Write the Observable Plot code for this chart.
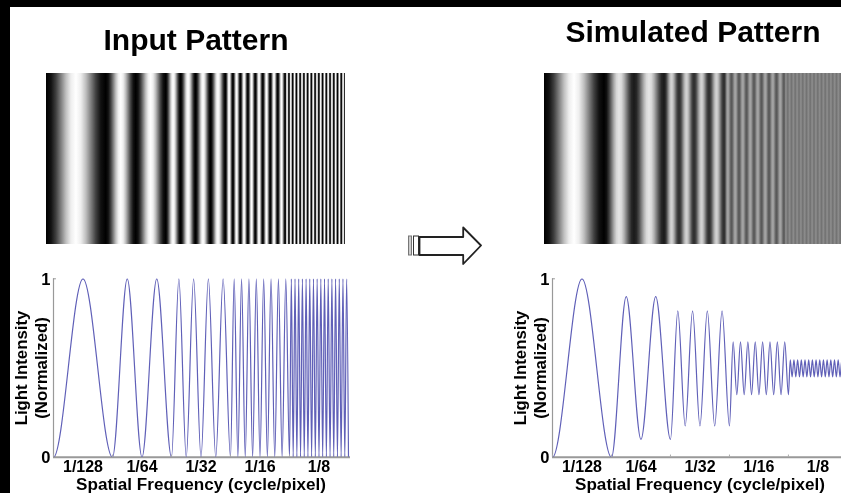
<!DOCTYPE html>
<html><head><meta charset="utf-8">
<script src="https://cdn.jsdelivr.net/npm/d3@7"></script>
<script src="https://cdn.jsdelivr.net/npm/@observablehq/plot@0.6"></script>
<style>
html,body{margin:0;padding:0;background:#000;overflow:hidden}
#page{position:relative;width:841px;height:493px;background:#000;overflow:hidden;font-family:"Liberation Sans",Arial,sans-serif}
#white{position:absolute;left:10px;top:7px;width:831px;height:486px;background:#fff}
.p{position:absolute}
.title{position:absolute;font-weight:bold;font-size:30px;line-height:32px;color:#000;white-space:nowrap;transform:translateX(-50%);filter:blur(.4px)}
</style></head><body>
<div id="page"><div id="white"></div></div>
<script>
// Extrema of the pattern, position along the octave bands (0..5)
const extremaX = [0,.5,1,
 1.25,1.5,1.75,2,
 2.125,2.25,2.375,2.5,2.625,2.75,2.875,3,
 3.0625,3.125,3.1875,3.25,3.3125,3.375,3.4375,3.5,3.5625,3.625,3.6875,3.75,3.8125,3.875,3.9375,4,
 4.03125,4.0625,4.09375,4.125,4.15625,4.1875,4.21875,4.25,4.28125,4.3125,4.34375,4.375,4.40625,4.4375,4.46875,4.5,
 4.53125,4.5625,4.59375,4.625,4.65625,4.6875,4.71875,4.75,4.78125,4.8125,4.84375,4.875,4.90625,4.9375,4.96875,5];
const inputLevels = [0,1,0,
 1,0,1,0,
 1,0,1,0,1,0,1,0,
 1,0,1,0,1,0,1,0,1,0,1,0,1,0,1,0,
 1,0,1,0,1,0,1,0,1,0,1,0,1,0,1,0,
 1,0,1,0,1,0,1,0,1,0,1,0,1,0,1,0];
const simulatedLevels = [0,1,0,
 .9,.1,.9,.1,
 .82,.175,.82,.175,.82,.175,.82,.175,
 .647,.35,.647,.35,.647,.35,.647,.35,.647,.35,.647,.35,.647,.35,.647,.35,
 .546,.45,.546,.45,.546,.45,.546,.45,.546,.45,.546,.45,.546,.45,.546,.45,
 .546,.45,.546,.45,.546,.45,.546,.45,.546,.45,.546,.45,.546,.45,.546,.45];
const leadIn = {x:-.5,y:1};
const tickCenters = [.5,1.5,2.5,3.5,4.5];
const tickLabels = ["1/128","1/64","1/32","1/16","1/8"];
const bandEdges = [0,1,2,3,4];
const yTicks = [0,1];
const xTitle = "Spatial Frequency (cycle/pixel)";
const yTitle = "Light Intensity\n(Normalized)";
const arrowBodyX = [419,462.7,462.7,480.5,462.7,462.7,419,419];
const arrowBodyY = [236.5,236.5,227,245,263.5,254.5,254.5,236.5];

const page = document.getElementById("page");
function put(node,left,top){node.classList.add("p");node.style.left=left+"px";node.style.top=top+"px";page.appendChild(node);}
function title(t,cx,top){const d=document.createElement("div");d.className="title";d.textContent=t;d.style.left=cx+"px";d.style.top=top+"px";page.appendChild(d);}

function grating(levels,id,width,xMax){
  const grad = () => {
    const svg = d3.create("svg:g");
    const g = svg.append("defs").append("linearGradient").attr("id",id).attr("x1",0).attr("x2",1).attr("y1",0).attr("y2",0);
    const sub = 6;
    for (let i=0;i<extremaX.length-1;i++){
      for (let k=0;k<sub;k++){
        const t=k/sub, e=d3.easeSinInOut(t);
        const v=levels[i]+(levels[i+1]-levels[i])*e;
        const c=Math.round(v*255);
        g.append("stop").attr("offset",(extremaX[i]+(extremaX[i+1]-extremaX[i])*t)/5).attr("stop-color",`rgb(${c},${c},${c})`);
      }
    }
    return svg.node();
  };
  return Plot.plot({width,height:171,margin:0,style:{background:"transparent",filter:"blur(.75px)",overflow:"hidden"},
    x:{domain:[0,xMax],axis:null},y:{domain:[0,1],axis:null},
    marks:[grad,Plot.rect([{a:0,b:5,c:0,d:1}],{x1:"a",x2:"b",y1:"c",y2:"d",fill:`url(#${id})`,clip:true})]});
}

function curve(levels,width,xMax,mLeft,mRight){
  const data = [leadIn, ...extremaX.map((x,i)=>({x,y:levels[i]}))];
  return Plot.plot({width,height:231,marginLeft:mLeft,marginRight:mRight,marginTop:16.3,marginBottom:36.3,
    style:{background:"transparent",fontFamily:"'Liberation Sans',Arial,sans-serif",fontWeight:"bold",filter:"blur(.4px)",color:"#000"},
    x:{domain:[0,xMax]},y:{domain:[0,1]},
    marks:[
      Plot.ruleY([0],{stroke:"#999",strokeWidth:2}),
      Plot.ruleX([0],{stroke:"#999",strokeWidth:1.2}),
      Plot.line(data,{x:"x",y:"y",curve:"monotone-x",stroke:"#6060b8",strokeWidth:1.2,clip:true}),
      Plot.ruleX(bandEdges,{y1:0,y2:.012,stroke:"#aaa"}),
      Plot.ruleY(yTicks,{x1:0,x2:.05,stroke:"#999"}),
      Plot.axisX({ticks:tickCenters,tickSize:0,tickPadding:3,tickFormat:(d,i)=>tickLabels[i],fontSize:16,label:null}),
      Plot.axisY({ticks:yTicks,tickSize:0,tickPadding:3,dy:1,tickFormat:d=>String(d),fontSize:16.5,label:null}),
      Plot.text([xTitle],{x:[2.5],frameAnchor:"bottom",dy:32.5,fontSize:17.1}),
      Plot.text([yTitle],{frameAnchor:"left",dx:-23,y:[.5],rotate:-90,textAnchor:"middle",fontSize:16.8,lineHeight:1.18})
    ]});
}

function arrow(){
  const pts = arrowBodyX.map((x,i)=>({x,y:arrowBodyY[i]}));
  return Plot.plot({width:100,height:60,margin:0,style:{background:"transparent",filter:"blur(.3px)"},
    x:{domain:[400,500],axis:null},y:{domain:[275,215],axis:null},
    marks:[
      Plot.rect([{a:408.5,b:411.5,c:236,d:255}],{x1:"a",x2:"b",y1:"c",y2:"d",fill:"#ccc",stroke:"#777",strokeWidth:1}),
      Plot.rect([{a:413.5,b:418.5,c:236,d:255}],{x1:"a",x2:"b",y1:"c",y2:"d",fill:"#fff",stroke:"#333",strokeWidth:1}),
      Plot.line(pts,{x:"x",y:"y",stroke:"#222",fill:"#fff",strokeWidth:1.8,curve:"linear"})
    ]});
}

title("Input Pattern",196,24);
title("Simulated Pattern",693,16);
put(grating(inputLevels,"gradIn",299,5),46,73);
put(grating(simulatedLevels,"gradSim",297,4.95),544,73);
put(curve(inputLevels,345,5.034,43,5),10,262);
put(curve(simulatedLevels,331,4.9,42,0),510,262);
put(arrow(),400,215);
</script>
</body></html>
